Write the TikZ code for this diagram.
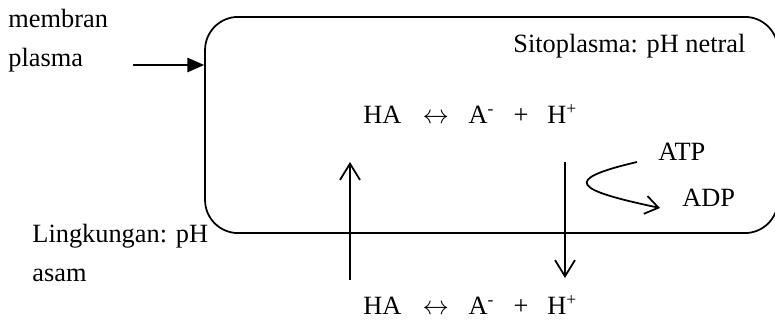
\documentclass[tikz,border=0pt]{standalone}
\usepackage{fontspec}
\setmainfont{Liberation Serif}
\usetikzlibrary{positioning,arrows.meta}
\tikzset{
  txt/.style={inner sep=0pt, anchor=base west, align=left,
              font=\fontsize{12}{17.8}\selectfont},
  cellbox/.style={draw, line width=0.8pt, rounded corners=0.53cm,
                  minimum width=9.17cm, minimum height=3.46cm, inner sep=0pt},
  pusharrow/.style={-{Triangle[length=2.7mm,width=2.3mm]}, line width=0.8pt},
  openarrow/.style={-{Straight Barb[length=2.6mm,width=3.2mm]}, line width=0.8pt},
  smallarrow/.style={-{Straight Barb[length=2.1mm,width=2.9mm]}, line width=0.8pt},
}
\newcommand{\eqtext}{HA\hspace{0.8em}$\leftrightarrow$\hspace{0.75em}A\textsuperscript{-}\hspace{0.72em}+\hspace{0.72em}H\textsuperscript{+}}

\begin{document}
\begin{tikzpicture}[x=0.016cm, y=-0.016cm]
  \useasboundingbox (0,0) rectangle (775,321);
  \node[cellbox] (cell) at (491.5,125) {};
  \node[txt] (membran) at (8,67) {membran\\plasma};
  \node[txt] (sito) at (513,53) {Sitoplasma: pH netral};
  \node[txt] (eqin) at (363,124) {\eqtext};
  \node[txt] (eqout) at (363,315) {\eqtext};
  \node[txt] (atp) at (658,161) {ATP};
  \node[txt] (adp) at (682,207) {ADP};
  \node[txt] (env) at (32,282) {Lingkungan: pH\\asam};

  \coordinate (mtail) at (133,65);
  \coordinate (upfoot) at (350,280);
  \coordinate (uptip) at (350,162);
  \coordinate (downtop) at (565,162);
  \coordinate (downtip) at (565,278);
  \coordinate (hydro) at (637,162);
  \coordinate (hydroend) at (660,208);

  \draw[pusharrow] (mtail) -- (mtail -| cell.west);
  \draw[openarrow] (upfoot) -- (uptip);
  \draw[openarrow] (downtop) -- (downtip);
  \draw[smallarrow] (hydro) .. controls (560,180) and (575,190) .. (hydroend);
\end{tikzpicture}
\end{document}
